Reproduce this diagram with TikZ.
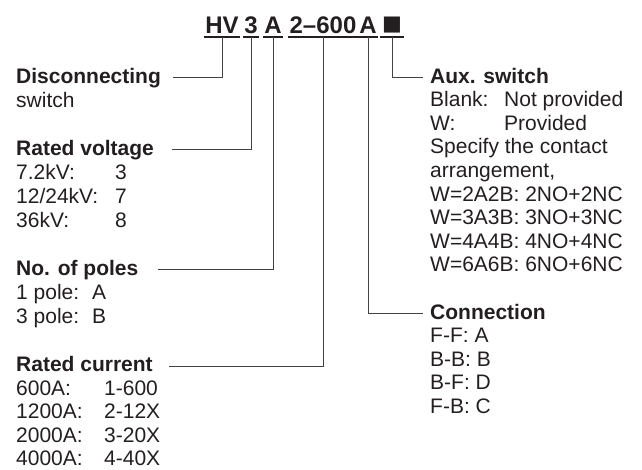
\documentclass[tikz,border=0pt]{standalone}
\usepackage{fontspec}
\setmainfont{Liberation Sans}
\newfontfamily\symfont{DejaVu Sans}
\usepackage{tikz}
\usetikzlibrary{positioning,calc}
\definecolor{ink}{RGB}{35,31,32}

\begin{document}
\begin{tikzpicture}[x=1pt,y=-1pt,
  code/.style={font=\fontsize{24}{28}\selectfont\bfseries,inner sep=0pt,anchor=base,text=ink},
  head/.style={font=\fontsize{21}{24}\selectfont\bfseries,inner sep=0pt,anchor=base west,text=ink},
  item/.style={font=\fontsize{21}{24}\selectfont,inner sep=0pt,anchor=base west,text=ink},
  lead/.style={draw=ink!85,line width=0.9pt},
  uline/.style={draw=ink,line width=1.3pt}
]
\useasboundingbox (0,0) rectangle (642,469);
% type code
\node[code] (hv) at (222,33) {HV};
\node[code] (volt) at (251,33) {3};
\node[code] (pole) at (273,33) {A};
\node[code] (curr) at (323,33) {2--600};
\node[code] (conn) at (368,33) {A};
\node[code,font=\fontsize{21}{28}\symfont] (aux) at (392,33) {\raisebox{2.5pt}{■}};
\foreach \n in {hv,volt,pole,curr,conn,aux}
  \draw[uline] ([xshift=-1.5pt,yshift=-4pt]\n.base west) -- ([xshift=1.5pt,yshift=-4pt]\n.base east);
% left column
\node[head] (disc) at (16,83) {Disconnecting};
\node[item] (sw) at (16,107) {switch};
\node[head] (rv) at (16,155) {Rated voltage};
\node[item] (rv1) at (16,179) {\makebox[99pt][l]{7.2kV:}3};
\node[item] (rv2) at (16,203) {\makebox[99pt][l]{12/24kV:}7};
\node[item] (rv3) at (16,227) {\makebox[99pt][l]{36kV:}8};
\node[head] (np) at (16,275) {No. of poles};
\node[item] (np1) at (16,299) {\makebox[76pt][l]{1 pole:}A};
\node[item] (np2) at (16,323) {\makebox[76pt][l]{3 pole:}B};
\node[head] (rc) at (16,371) {Rated current};
\node[item] (rc1) at (16,395) {\makebox[88pt][l]{600A:}1-600};
\node[item] (rc2) at (16,418) {\makebox[88pt][l]{1200A:}2-12X};
\node[item] (rc3) at (16,442) {\makebox[88pt][l]{2000A:}3-20X};
\node[item] (rc4) at (16,465) {\makebox[88pt][l]{4000A:}4-40X};
% right column
\node[head] (ax) at (430,83) {Aux. switch};
\node[item] (ax1) at (430,106.6) {\makebox[74pt][l]{Blank:}Not provided};
\node[item] (ax2) at (430,130.2) {\makebox[74pt][l]{W:}Provided};
\node[item] (ax3) at (430,153.8) {Specify the contact};
\node[item] (ax4) at (430,177.4) {arrangement,};
\foreach \t [count=\i] in {W=2A2B: 2NO+2NC,W=3A3B: 3NO+3NC,W=4A4B: 4NO+4NC,W=6A6B: 6NO+6NC}
  \node[item] (aw\i) at (430,177.4+23.6*\i) {\t};
\node[head] (cn) at (430,319) {Connection};
\foreach \t [count=\i] in {F-F: A,B-B: B,B-F: D,F-B: C}
  \node[item] (cn\i) at (430,319+23.6*\i) {\t};
% leaders
\draw[lead] ([yshift=-4pt]hv.base) |- ([xshift=12pt,yshift=5.5pt]disc.base east);
\draw[lead] ([yshift=-4pt]volt.base) |- ([xshift=18pt,yshift=5.5pt]rv.base east);
\draw[lead] ([yshift=-4pt]pole.base) |- ([xshift=19pt,yshift=6pt]np.base east);
\draw[lead] ([yshift=-4pt]curr.base) |- ([xshift=16pt,yshift=4.5pt]rc.base east);
\draw[lead] ([yshift=-4pt]conn.base) |- ([xshift=-7pt,yshift=6pt]cn.base west);
\draw[lead] ([yshift=-4pt]aux.base) |- ([xshift=-7pt,yshift=6pt]ax.base west);
\end{tikzpicture}
\end{document}
